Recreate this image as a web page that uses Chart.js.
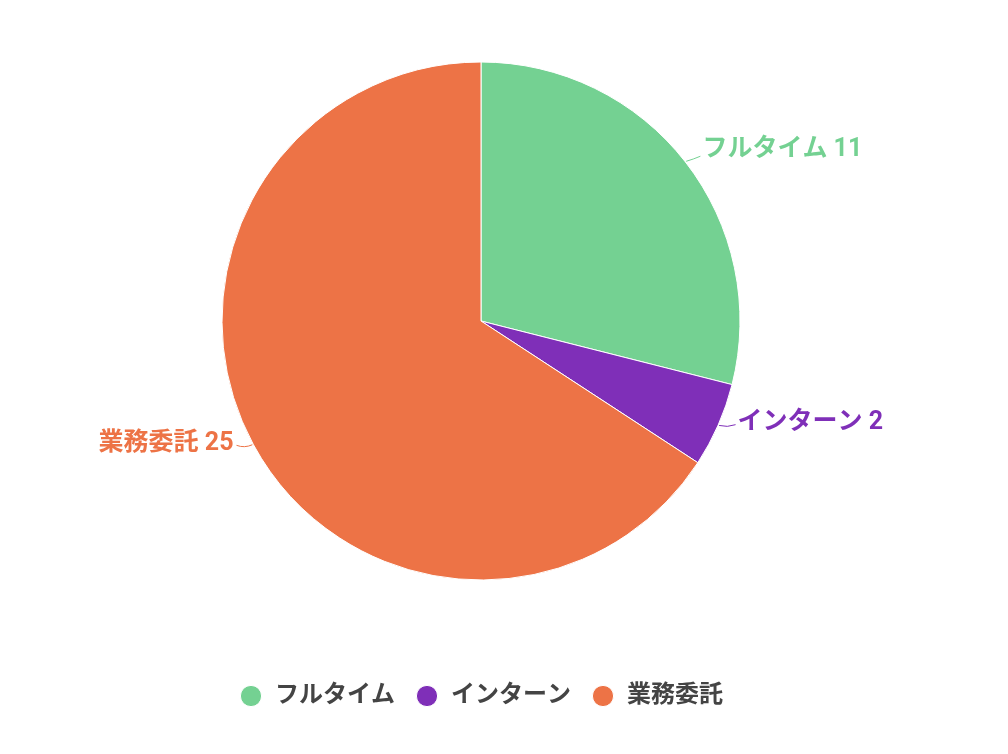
<!DOCTYPE html>
<html>
<head>
<meta charset="utf-8">
<script src="https://cdn.jsdelivr.net/npm/chart.js@4"></script>
<style>
  html, body { margin: 0; padding: 0; background: #fff; }
  #wrap { width: 1008px; height: 754px; }
</style>
</head>
<body>
<div id="wrap"><canvas id="pie"></canvas></div>
<script>
// data
const categories = ['フルタイム', 'インターン', '業務委託'];
const counts = [11, 2, 25];
const sliceColors = ['#74d192', '#7f2fb8', '#ed7346'];

const FONT = 'Roboto, "Noto Sans CJK JP", sans-serif';

// labels outside the slices with a short curved leader line
const outsideLabels = {
  id: 'outsideLabels',
  afterDatasetsDraw(chart) {
    const { ctx } = chart;
    const meta = chart.getDatasetMeta(0);
    ctx.save();
    ctx.font = `bold 25px ${FONT}`;
    ctx.textBaseline = 'middle';
    meta.data.forEach((arc, i) => {
      const { x, y, startAngle, endAngle, outerRadius } = arc.getProps(['x', 'y', 'startAngle', 'endAngle', 'outerRadius'], true);
      const mid = (startAngle + endAngle) / 2;
      const cos = Math.cos(mid), sin = Math.sin(mid);
      const right = cos >= 0;
      const p0 = { x: x + cos * (outerRadius + 1), y: y + sin * (outerRadius + 1) };
      const ex = x + cos * (outerRadius + 19);
      const ty = y + sin * (outerRadius + 19) - (sin > 0 ? 10 : 0);
      const p1 = { x: ex, y: ty + (sin > 0 ? 2 : 6) };
      const color = sliceColors[i];
      ctx.strokeStyle = color;
      ctx.lineWidth = 1;
      ctx.beginPath();
      ctx.moveTo(p0.x, p0.y);
      ctx.quadraticCurveTo((p0.x + p1.x) / 2, p1.y + 3, p1.x, p1.y);
      ctx.stroke();
      ctx.fillStyle = color;
      ctx.textAlign = right ? 'left' : 'right';
      ctx.fillText(`${categories[i]} ${counts[i]}`, ex + (right ? 2 : -3), ty);
    });
    ctx.restore();
  }
};

new Chart(document.getElementById('pie'), {
  type: 'pie',
  data: {
    labels: categories,
    datasets: [{
      data: counts,
      backgroundColor: sliceColors,
      borderColor: '#ffffff',
      borderWidth: 1,
      radius: 259,
    }],
  },
  options: {
    responsive: true,
    maintainAspectRatio: false,
    animation: false,
    layout: { padding: { top: 0, left: 0, right: 46, bottom: 36 } },
    plugins: {
      tooltip: { enabled: false },
      legend: {
        position: 'bottom',
        title: { display: true, text: '', font: { size: 4, lineHeight: 1 }, padding: { top: 0, bottom: 18 } },
        labels: {
          usePointStyle: true,
          pointStyle: 'circle',
          boxWidth: 24,
          boxHeight: 15,
          padding: 20,
          color: '#444444',
          font: { family: FONT, size: 24, weight: 'bold' },
        },
      },
    },
  },
  plugins: [outsideLabels],
});
</script>
</body>
</html>
